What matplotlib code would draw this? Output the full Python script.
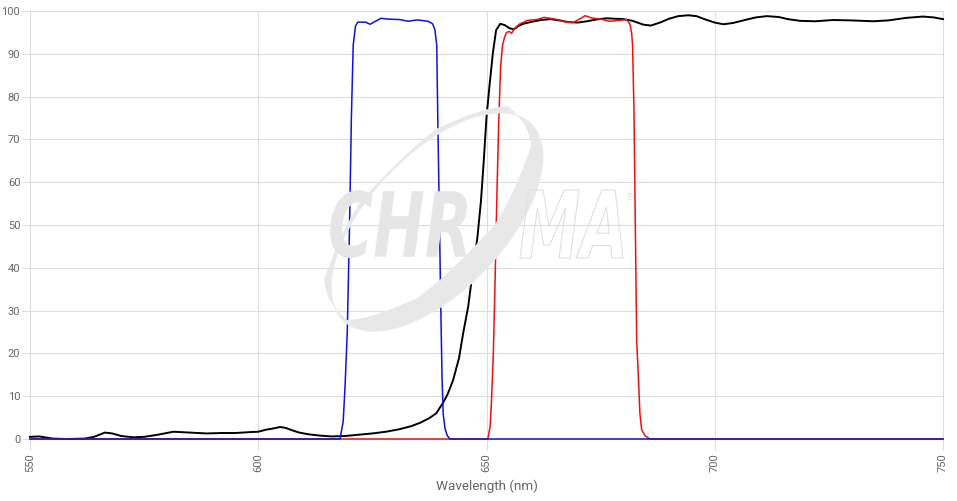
import matplotlib
matplotlib.use("Agg")
import matplotlib.pyplot as plt
from matplotlib.textpath import TextPath
from matplotlib.font_manager import FontProperties
from matplotlib.patches import PathPatch
from matplotlib.path import Path
from matplotlib.transforms import Affine2D, IdentityTransform
import numpy as np

# black curve (wavelength nm, transmission %)
black_wl = [550, 552, 555, 558, 562, 564, 566.4, 568, 570, 572.6, 575, 578, 581.4, 585,
            588.7, 592, 595, 598, 600, 601.8, 603, 604.8, 606, 607.5, 609, 611, 613.5,
            616, 619, 622, 625, 628, 631, 633.5, 635.5, 637.5, 639, 640.5, 641.5, 642.7,
            644, 644.9, 646, 647.1, 648, 648.8, 649.4, 650, 650.7, 651.4, 652.1, 653,
            654, 655, 656, 657, 658, 660, 662, 664, 666, 668, 670, 672, 674, 676.3, 678,
            680, 682, 684.4, 686, 688, 690, 692, 694.2, 696, 698, 700, 701.9, 704, 707,
            709, 711.4, 714, 716, 718.7, 722, 726, 730, 734.7, 738, 742, 745.6, 748, 750]
black_t = [0.5, 0.6, 0.1, 0.0, 0.1, 0.5, 1.5, 1.3, 0.7, 0.4, 0.5, 1.0, 1.7, 1.5,
           1.3, 1.4, 1.4, 1.6, 1.7, 2.2, 2.4, 2.8, 2.6, 2.0, 1.5, 1.1, 0.8,
           0.6, 0.7, 1.0, 1.3, 1.7, 2.3, 3.0, 3.8, 4.9, 6.0, 8.5, 10.5, 13.8,
           19, 24.8, 31, 40.2, 47, 55.8, 65, 75.2, 83, 90.2, 95.5, 97,
           96.7, 96, 95.7, 96.5, 97, 97.5, 97.9, 98.1, 97.8, 97.4, 97.3, 97.6, 98.0, 98.3, 98.2,
           98.1, 97.7, 96.8, 96.6, 97.3, 98.2, 98.8, 99.0, 98.8, 98.0, 97.3, 96.9, 97.2, 98.0,
           98.5, 98.8, 98.6, 98.1, 97.7, 97.6, 97.9, 97.8, 97.6, 97.8, 98.4, 98.7, 98.5, 98.1]

# blue curve
blue_wl = [550, 617.9, 618.6, 619.0, 619.5, 620.0, 620.4, 620.8, 621.3, 621.8, 623.5,
           624.5, 625.5, 626.9, 628.5, 631, 632.8, 634, 635, 637.2, 638.2, 638.7, 639.1,
           639.3, 639.7, 640.0, 640.25, 640.5, 640.9, 641.4, 642, 750]
blue_t = [0, 0, 4, 12, 25, 50, 75, 92, 96.5, 97.4, 97.4,
          96.9, 97.5, 98.3, 98.1, 98.0, 97.6, 97.8, 97.9, 97.6, 97.0, 95.6, 92,
          77, 50, 30, 15, 6, 2.5, 0.8, 0, 0]

# red curve
red_wl = [550, 650.3, 650.8, 651.1, 651.5, 651.9, 652.3, 652.7, 653.1, 653.5, 654, 654.4,
          655, 655.5, 656.2, 657.3, 659, 661, 662.6, 664, 666, 667.5, 669, 670.5, 671.6,
          673, 675, 677, 679, 680.7, 681.4, 681.8, 682.0, 682.3, 682.6, 682.9, 683.3,
          683.6, 684, 684.8, 685.8, 750]
red_t = [0, 0, 3, 9, 20, 38, 58, 75, 87, 92, 94, 95,
         95.2, 94.8, 96, 97, 97.8, 98, 98.5, 98.3, 97.9, 97.4, 97.3, 98.2, 98.9,
         98.4, 98.1, 97.6, 97.8, 98.0, 97, 94.8, 92, 77, 50, 23, 13.8,
         6, 2.1, 0.7, 0, 0]

x_ticks = [550, 600, 650, 700, 750]
y_ticks = list(range(0, 101, 10))

W, H = 957, 501
fig = plt.figure(figsize=(W / 100, H / 100), dpi=100)
ax = fig.add_axes([30 / W, (H - 439) / H, 913 / W, 428 / H])

grid_c = "#dddddd"
txt_c = "#666666"

# watermark, placed in image pixels (y measured from top)
wm = "#e6e6e6"
fp = FontProperties(family="DejaVu Sans", weight="bold", style="italic")

def word(s, x0, x1, ytop, ybot, filled):
    tp = TextPath((0, 0), s, size=1, prop=fp)
    ext = tp.get_extents()
    sx = (x1 - x0) / ext.width
    sy = (ybot - ytop) / ext.height
    tr = (Affine2D().translate(-ext.x0, -ext.y0).scale(sx, sy)
          .translate(x0, H - ybot))
    p = tr.transform_path(tp)
    if filled:
        patch = PathPatch(p, fc=wm, ec="none", transform=IdentityTransform(), zorder=0.5)
    else:
        patch = PathPatch(p, fc="none", ec="#e0e0e0", lw=0.8, transform=IdentityTransform(), zorder=0.5)
    fig.add_artist(patch)

# swoosh ring
cx, cy = 437, H - 222
ang = 46.5
circ = Path.unit_circle()
perp = np.array([-np.sin(np.radians(ang)), np.cos(np.radians(ang))])
p_out = Affine2D().scale(136, 68).rotate_deg(ang).translate(cx, cy).transform_path(circ)
p_in = (Affine2D().scale(133, 57).rotate_deg(ang)
        .translate(cx + perp[0] * 13, cy + perp[1] * 13).transform_path(circ))
p_in_rev = Path(p_in.vertices[::-1], p_in.codes)
ring = Path.make_compound_path(p_out, p_in_rev)
fig.add_artist(PathPatch(ring, fc="#e8e8e8", ec="none", transform=IdentityTransform(), zorder=0.5))
fig.add_artist(PathPatch(p_out, fc="none", ec="#ebebeb", lw=0.8, transform=IdentityTransform(), zorder=0.5))

word("CHR", 330, 467, 190, 258, True)
word("MA", 520, 623, 190, 258, False)
fig.text(626 / W, (H - 200) / H, "®", color="#e0e0e0", fontsize=6)

ax.set_facecolor("none")
ax.plot(black_wl, black_t, color="black", lw=1.4, clip_on=False, zorder=3)
ax.plot(red_wl, red_t, color="#ee1111", lw=1.1, clip_on=False, zorder=4)
ax.plot(blue_wl, blue_t, color="#1111dd", lw=1.1, clip_on=False, zorder=5)

ax.set_xlim(550, 750)
ax.set_ylim(0, 100)
ax.set_xticks(x_ticks)
ax.set_yticks(y_ticks)
ax.grid(True, color=grid_c, lw=0.8)
ax.set_axisbelow(True)
for s in ax.spines.values():
    s.set_color(grid_c)
    s.set_linewidth(0.8)

ax.tick_params(axis="x", length=8, color=grid_c, labelcolor=txt_c, labelsize=8,
               labelrotation=90, pad=2)
ax.tick_params(axis="y", length=6, color=grid_c, labelcolor=txt_c, labelsize=8, pad=1)
for lab in ax.get_xticklabels() + ax.get_yticklabels():
    lab.set_fontfamily("Roboto")

ax.set_xlabel("Wavelength (nm)", color=txt_c, fontsize=9.7, fontfamily="Roboto", labelpad=6)

fig.savefig("out.png", dpi=100)
